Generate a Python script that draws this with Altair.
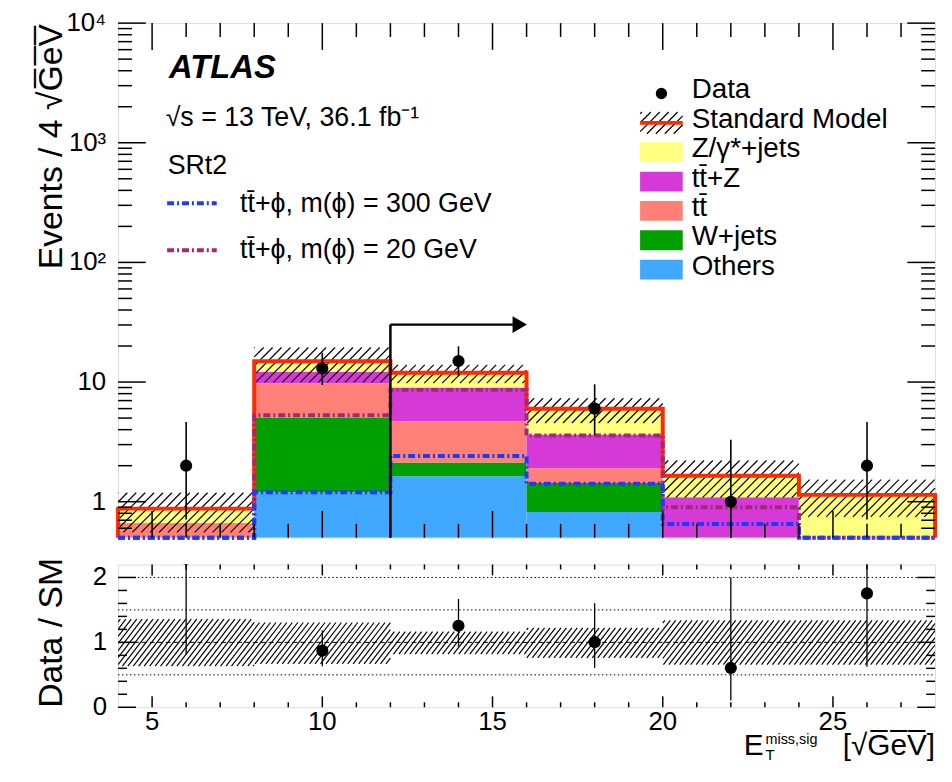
import math
import altair as alt
import pandas as pd

# ---------------- values ----------------
bin_lo = [4, 8, 12, 16, 20, 24]
bin_hi = [8, 12, 16, 20, 24, 28]
bin_mid = [6, 10, 14, 18, 22, 26]

proc_names = ["Others", "W+jets", "tt\u0304", "tt\u0304+Z", "Z/\u03b3*+jets"]
proc_colors = ["#40a8ff", "#00a000", "#ff8077", "#d63ad6", "#ffff80"]
others = [0.15, 1.20, 1.63, 0.82, 0.20, 0.20]
wjets = [0.10, 3.80, 0.50, 0.61, 0.05, 0.05]
ttbar = [0.41, 4.75, 2.57, 0.47, 0.05, 0.10]
ttz = [0.005, 2.45, 4.32, 1.75, 0.79, 0.10]
zjets = [0.21, 2.70, 2.92, 2.33, 0.56, 0.69]
processes = [others, wjets, ttbar, ttz, zjets]

sm_unc_lo = [0.633, 0.668, 0.82, 0.76, 0.656, 0.656]
sm_unc_hi = [1.357, 1.306, 1.165, 1.225, 1.34, 1.34]

data_n = [2, 13, 15, 6, 1, 2]
data_err_lo = [0.71, 9.44, 11.2, 3.62, 0.17, 0.71]
data_err_hi = [4.64, 17.6, 19.9, 9.58, 3.30, 4.64]

sig300 = [0.40, 1.20, 2.41, 1.41, 0.65, 0.40]
sig20 = [0.40, 5.27, 8.60, 3.58, 0.90, 0.40]
sig_labels = ["tt\u0304+\u03d5, m(\u03d5) = 300 GeV", "tt\u0304+\u03d5, m(\u03d5) = 20 GeV"]
sig_colors = ["#1a3cff", "#a3277d"]

cut_value = 12
arrow_end = 16.05
arrow_height = 30.2

legend_labels = ["Data", "Standard Model", "Z/\u03b3*+jets", "tt\u0304+Z", "tt\u0304", "W+jets", "Others"]

x_major = [5, 10, 15, 20, 25]
x_labels = ["5", "10", "15", "20", "25"]
y_major = [1, 10, 100, 1000, 10000]
y_labels = ["1", "10", "10\u00b2", "10\u00b3", "10\u2074"]
r_major = [0, 1, 2]
r_labels = ["0", "1", "2"]
r_minor = [0.2, 0.4, 0.6, 0.8, 1.2, 1.4, 1.6, 1.8]
ratio_dotted = [0.5, 1.5, 2.0]
ratio_dashed = [1.0]

# ---------------- layout constants ----------------
FONT = "Liberation Sans"
W, H1, H2 = 824, 519, 144
X_MIN, X_MAX = 4, 28
Y_MIN, Y_MAX = 0.5, 1e4
R_MIN, R_MAX = 0, 2.2
LY0, LY1 = math.log10(Y_MIN), math.log10(Y_MAX)

xsc = alt.Scale(domain=[X_MIN, X_MAX], nice=False, zero=False)
ysc = alt.Scale(type="log", domain=[Y_MIN, Y_MAX], nice=False)
rsc = alt.Scale(domain=[R_MIN, R_MAX], nice=False, zero=False)


def px(x):
    return (x - X_MIN) / (X_MAX - X_MIN) * W


def inv_x(p):
    return X_MIN + p / W * (X_MAX - X_MIN)


def py_main(y):
    return (math.log10(y) - LY0) / (LY1 - LY0) * H1


def inv_main(p):
    return 10 ** (LY0 + p / H1 * (LY1 - LY0))


def py_ratio(r):
    return (r - R_MIN) / (R_MAX - R_MIN) * H2


def inv_ratio(p):
    return R_MIN + p / H2 * (R_MAX - R_MIN)


def hatch(x0, x1, b0, b1, spacing, slope):
    segs = []
    step = spacing * slope
    cmin = b0 - slope * x1
    cmax = b1 - slope * x0
    for k in range(math.floor(cmin / step), math.ceil(cmax / step) + 1):
        c = k * step
        xa = max(x0, (b0 - c) / slope)
        xb = min(x1, (b1 - c) / slope)
        if xb - xa > 0.3:
            segs.append((xa, slope * xa + c, xb, slope * xb + c))
    return segs


sm = [sum(p[i] for p in processes) for i in range(6)]

# ---------------- derived tables ----------------
fill_rows = []
for b in range(6):
    cum = 0.0
    for name, vals in zip(proc_names, processes):
        lo = cum
        cum += vals[b]
        if cum <= Y_MIN:
            continue
        fill_rows.append(dict(x=bin_lo[b], x2=bin_hi[b], y=max(lo, Y_MIN), y2=cum, proc=name))
fill_df = pd.DataFrame(fill_rows)

LEG_X0, LEG_X1 = 526.5, 569.5
leg_y = [71 + 29.6 * i for i in range(len(legend_labels))]

hatch_rows = []
for b in range(6):
    lo = max(sm[b] * sm_unc_lo[b], Y_MIN)
    hi = sm[b] * sm_unc_hi[b]
    for xa, ya, xb, yb in hatch(px(bin_lo[b]), px(bin_hi[b]), py_main(lo), py_main(hi), 9.0, 1.0):
        hatch_rows.append(dict(x=inv_x(xa), y=inv_main(ya), x2=inv_x(xb), y2=inv_main(yb)))
for xa, ya, xb, yb in hatch(LEG_X0, LEG_X1, H1 - leg_y[1] - 11, H1 - leg_y[1] + 11, 9.0, 1.0):
    hatch_rows.append(dict(x=inv_x(xa), y=inv_main(ya), x2=inv_x(xb), y2=inv_main(yb)))
hatch_df = pd.DataFrame(hatch_rows)


def outline(vals):
    pts = [(bin_lo[0], Y_MIN)]
    for lo, hi, v in zip(bin_lo, bin_hi, vals):
        v = max(v, Y_MIN)
        pts += [(lo, v), (hi, v)]
    pts.append((bin_hi[-1], Y_MIN))
    return pd.DataFrame({"x": [p[0] for p in pts], "y": [p[1] for p in pts], "i": list(range(len(pts)))})


data_df = pd.DataFrame({"x": bin_mid, "n": data_n, "lo": data_err_lo, "hi": data_err_hi})
ratio_df = pd.DataFrame({
    "x": bin_mid,
    "r": [n / s for n, s in zip(data_n, sm)],
    "lo": [v / s for v, s in zip(data_err_lo, sm)],
    "hi": [v / s for v, s in zip(data_err_hi, sm)],
})

rhatch_rows = []
for b in range(6):
    for xa, ya, xb, yb in hatch(px(bin_lo[b]), px(bin_hi[b]), py_ratio(sm_unc_lo[b]), py_ratio(sm_unc_hi[b]), 5.5, 1.3):
        rhatch_rows.append(dict(x=inv_x(xa), y=inv_ratio(ya), x2=inv_x(xb), y2=inv_ratio(yb)))
rhatch_df = pd.DataFrame(rhatch_rows)


def X(f):
    return alt.X(f, type="quantitative", scale=xsc, axis=None)


def Y(f):
    return alt.Y(f, type="quantitative", scale=ysc, axis=None)


def R(f):
    return alt.Y(f, type="quantitative", scale=rsc, axis=None)


proc_color = alt.Color("proc:N", scale=alt.Scale(domain=proc_names, range=proc_colors), legend=None)

layers = []
layers.append(alt.Chart(fill_df).mark_rect(clip=True).encode(
    x=X("x"), x2="x2", y=Y("y"), y2="y2", color=proc_color))
layers.append(alt.Chart(hatch_df).mark_rule(color="black", strokeWidth=1.2).encode(
    x=X("x"), x2="x2", y=Y("y"), y2="y2"))
layers.append(alt.Chart(outline(sm)).mark_line(color="#ff2a00", strokeWidth=4, strokeJoin="miter", strokeCap="butt").encode(
    x=X("x"), y=Y("y"), order="i:Q"))
for vals, col in zip([sig20, sig300], [sig_colors[1], sig_colors[0]]):
    layers.append(alt.Chart(outline(vals)).mark_line(color=col, strokeWidth=4, strokeDash=[7, 3, 2, 3], strokeCap="butt").encode(
        x=X("x"), y=Y("y"), order="i:Q"))
layers.append(alt.Chart(data_df).mark_rule(clip=True, color="black", strokeWidth=1.6).encode(
    x=X("x"), y=Y("lo"), y2="hi"))
layers.append(alt.Chart(data_df).mark_circle(clip=True, color="black", size=150, opacity=1).encode(
    x=X("x"), y=Y("n")))
# cut arrow
arrow_v = pd.DataFrame({"x": [cut_value], "y": [Y_MIN], "y2": [arrow_height]})
arrow_h = pd.DataFrame({"x": [cut_value], "x2": [arrow_end - 0.4], "y": [arrow_height]})
arrow_t = pd.DataFrame({"x": [arrow_end - 0.25], "y": [arrow_height]})
layers.append(alt.Chart(arrow_v).mark_rule(color="black", strokeWidth=2.5).encode(x=X("x"), y=Y("y"), y2="y2"))
layers.append(alt.Chart(arrow_h).mark_rule(color="black", strokeWidth=2.5).encode(x=X("x"), x2="x2", y=Y("y")))
layers.append(alt.Chart(arrow_t).mark_point(shape="triangle-right", filled=True, color="black", size=280, opacity=1).encode(
    x=X("x"), y=Y("y")))


def minor_log():
    out = []
    for d in [0.1, 1, 10, 100, 1000]:
        for k in range(2, 10):
            v = k * d
            if Y_MIN < v < Y_MAX:
                out.append(v)
    return out


x_minor = [v for v in range(X_MIN + 1, X_MAX) if v not in x_major]


def yticks(vals, length, ychan, width):
    df = pd.DataFrame({"v": vals})
    a = alt.Chart(df).mark_rule(color="black", strokeWidth=1.5).encode(y=ychan("v"), x=alt.value(0), x2=alt.value(length))
    b = alt.Chart(df).mark_rule(color="black", strokeWidth=1.5).encode(y=ychan("v"), x=alt.value(width), x2=alt.value(width - length))
    return [a, b]


def xticks(vals, length, height):
    df = pd.DataFrame({"v": vals})
    a = alt.Chart(df).mark_rule(color="black", strokeWidth=1.5).encode(x=X("v"), y=alt.value(0), y2=alt.value(length))
    b = alt.Chart(df).mark_rule(color="black", strokeWidth=1.5).encode(x=X("v"), y=alt.value(height), y2=alt.value(height - length))
    return [a, b]


layers += yticks(y_major, 28, Y, W) + yticks(minor_log(), 14, Y, W)
layers += xticks(x_major, 27, H1) + xticks(x_minor, 14, H1)

# y tick labels
layers.append(alt.Chart(pd.DataFrame({"v": y_major, "t": y_labels})).mark_text(
    align="right", baseline="middle", fontSize=26, color="black").encode(
    y=Y("v"), x=alt.value(-12), text="t:N"))

# signal legend
for yy, col in zip([181.7, 229], sig_colors):
    layers.append(alt.Chart(pd.DataFrame({"x": [inv_x(49.5)], "x2": [inv_x(99.5)], "y": [inv_main(H1 - yy)]}))
                  .mark_rule(strokeWidth=4, strokeDash=[7, 3, 2, 3], color=col).encode(x=X("x"), x2="x2", y=Y("y")))

box_rows = []
for lab, yc in zip(legend_labels[2:], leg_y[2:]):
    box_rows.append(dict(x=inv_x(LEG_X0), x2=inv_x(LEG_X1), y=inv_main(H1 - yc - 10), y2=inv_main(H1 - yc + 10), proc=lab))
layers.append(alt.Chart(pd.DataFrame(box_rows)).mark_rect().encode(
    x=X("x"), x2="x2", y=Y("y"), y2="y2", color=proc_color))
layers.append(alt.Chart(pd.DataFrame({"x": [inv_x(LEG_X0)], "x2": [inv_x(LEG_X1)], "y": [inv_main(H1 - leg_y[1])]}))
              .mark_rule(color="#ff2a00", strokeWidth=4).encode(x=X("x"), x2="x2", y=Y("y")))
layers.append(alt.Chart(pd.DataFrame({"x": [inv_x(548)], "y": [inv_main(H1 - leg_y[0])]}))
              .mark_circle(color="black", size=130, opacity=1).encode(x=X("x"), y=Y("y")))

txt_rows = [dict(t=lab, x=inv_x(578.5), y=inv_main(H1 - yc - 5), fs=28) for lab, yc in zip(legend_labels, leg_y)]
txt_rows += [
    dict(t="\u221as = 13 TeV, 36.1 fb\u207b\u00b9", x=inv_x(48), y=inv_main(H1 - 104), fs=27),
    dict(t="SRt2", x=inv_x(50), y=inv_main(H1 - 152), fs=27),
    dict(t=sig_labels[0], x=inv_x(123), y=inv_main(H1 - 191), fs=27),
    dict(t=sig_labels[1], x=inv_x(123), y=inv_main(H1 - 237), fs=27),
]
layers.append(alt.Chart(pd.DataFrame(txt_rows)).mark_text(align="left", baseline="alphabetic", color="black").encode(
    x=X("x"), y=Y("y"), text="t:N", size=alt.Size("fs:Q", scale=None, legend=None)))
layers.append(alt.Chart(pd.DataFrame({"t": ["ATLAS"], "x": [inv_x(51.5)], "y": [inv_main(H1 - 55)]}))
              .mark_text(align="left", baseline="alphabetic", fontSize=33, fontWeight="bold", fontStyle="italic", color="black")
              .encode(x=X("x"), y=Y("y"), text="t:N"))
layers.append(alt.Chart(pd.DataFrame({"t": ["Events / 4 \u221aG\u0305e\u0305V\u0305"]}))
              .mark_text(align="right", baseline="middle", angle=270, fontSize=34, color="black")
              .encode(x=alt.value(-66.5), y=alt.value(1), text="t:N"))
# invisible anchor that fixes the left edge of the layout
layers.append(alt.Chart(pd.DataFrame({"a": [0]})).mark_rule(strokeOpacity=0, opacity=0, strokeWidth=0.01)
              .encode(x=alt.value(-110.5), x2=alt.value(-110.5), y=alt.value(100), y2=alt.value(110)))

main = alt.layer(*layers).properties(width=W, height=H1)

# ---------------- ratio panel ----------------
rl = []
rl.append(alt.Chart(rhatch_df).mark_rule(color="black", strokeWidth=1.2, clip=True).encode(
    x=X("x"), x2="x2", y=R("y"), y2="y2"))
rl.append(alt.Chart(pd.DataFrame({"v": ratio_dotted})).mark_rule(color="black", strokeWidth=1, strokeDash=[1.5, 2.5]).encode(
    y=R("v"), x=alt.value(0), x2=alt.value(W)))
rl.append(alt.Chart(pd.DataFrame({"v": ratio_dashed})).mark_rule(color="black", strokeWidth=1, strokeDash=[5, 3]).encode(
    y=R("v"), x=alt.value(0), x2=alt.value(W)))
rl.append(alt.Chart(ratio_df).mark_rule(clip=True, color="black", strokeWidth=1.3).encode(x=X("x"), y=R("lo"), y2="hi"))
rl.append(alt.Chart(ratio_df).mark_circle(clip=True, color="black", size=150, opacity=1).encode(x=X("x"), y=R("r")))
rl += yticks(r_major, 18, R, W) + yticks(r_minor, 9, R, W)
rl += xticks(x_major, 11, H2) + xticks(x_minor, 5, H2)
rl.append(alt.Chart(pd.DataFrame({"v": r_major, "t": r_labels})).mark_text(
    align="right", baseline="middle", fontSize=26, color="black").encode(
    y=R("v"), x=alt.value(-11), text="t:N"))
rl.append(alt.Chart(pd.DataFrame({"v": x_major, "t": x_labels})).mark_text(
    align="center", baseline="top", fontSize=26, color="black").encode(
    x=X("v"), y=alt.value(H2 + 2), text="t:N"))
rl.append(alt.Chart(pd.DataFrame({"t": ["Data / SM"]}))
          .mark_text(align="center", baseline="middle", angle=270, fontSize=34, color="black")
          .encode(x=alt.value(-66.5), y=alt.value(69), text="t:N"))
# x-axis title (kept inside the window)
rl.append(alt.Chart(pd.DataFrame({"t": ["[\u221aG\u0305e\u0305V\u0305]"]}))
          .mark_text(align="right", baseline="alphabetic", fontSize=30, color="black")
          .encode(x=alt.value(W), y=alt.value(192), text="t:N"))
rl.append(alt.Chart(pd.DataFrame({"t": ["E"]}))
          .mark_text(align="left", baseline="alphabetic", fontSize=30, color="black")
          .encode(x=alt.value(631), y=alt.value(192), text="t:N"))
rl.append(alt.Chart(pd.DataFrame({"t": ["T"]}))
          .mark_text(align="left", baseline="alphabetic", fontSize=15, color="black")
          .encode(x=alt.value(653), y=alt.value(197), text="t:N"))
rl.append(alt.Chart(pd.DataFrame({"t": ["miss,sig"]}))
          .mark_text(align="left", baseline="alphabetic", fontSize=14.5, color="black")
          .encode(x=alt.value(653), y=alt.value(181), text="t:N"))
ratio = alt.layer(*rl).properties(width=W, height=H2)

chart = alt.vconcat(main, ratio, spacing=27, bounds="flush").properties(
    padding={"left": 0, "top": -2, "right": 0, "bottom": 0}
).configure_view(stroke="black", strokeWidth=2).configure_text(font=FONT).configure(background="white")

chart.save("out.html", embed_options={"renderer": "svg", "actions": False})
